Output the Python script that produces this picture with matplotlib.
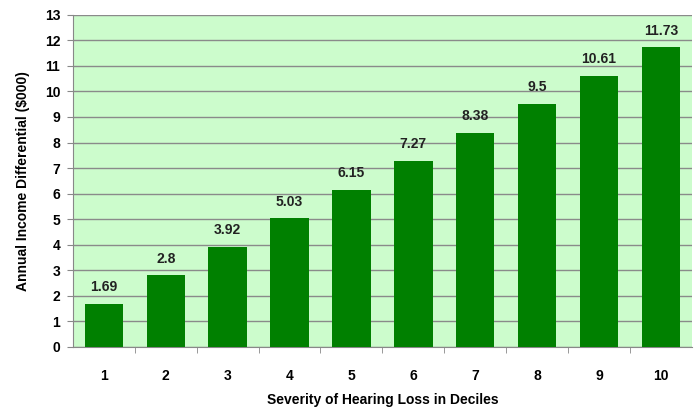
import matplotlib
matplotlib.use("Agg")
import matplotlib.pyplot as plt
from matplotlib.ticker import FixedLocator

plt.rcParams["font.family"] = ["Liberation Sans", "DejaVu Sans"]
plt.rcParams["font.weight"] = "bold"

# data
deciles = ["1", "2", "3", "4", "5", "6", "7", "8", "9", "10"]
income_diff = [1.69, 2.8, 3.92, 5.03, 6.15, 7.27, 8.38, 9.5, 10.61, 11.73]
value_labels = ["1.69", "2.8", "3.92", "5.03", "6.15", "7.27", "8.38", "9.5", "10.61", "11.73"]

fig = plt.figure(figsize=(6.94, 4.11), dpi=100)
ax = fig.add_axes([0.105, 0.156, 0.892, 0.808])
ax.set_facecolor("#ccfccc")

pos = list(range(len(deciles)))
ax.bar(pos, income_diff, width=0.62, color="#008000", zorder=3)

for x, v, lab in zip(pos, income_diff, value_labels):
    ax.text(x, v + 0.38, lab, ha="center", va="bottom", fontsize=10,
            fontweight="bold", color="#222222", zorder=4)

ax.set_xlim(-0.5, len(deciles) - 0.5)
ax.set_ylim(0, 13)
ax.set_yticks(range(0, 14))
ax.yaxis.grid(True, color="#8a8a8a", linewidth=1, zorder=1)

ax.set_xticks(pos)
ax.set_xticklabels(deciles)
ax.tick_params(axis="x", which="major", length=0, pad=16, labelsize=10)
ax.xaxis.set_minor_locator(FixedLocator([p + 0.5 for p in pos[:-1]]))
ax.tick_params(axis="x", which="minor", length=4, color="#888888", direction="out")
ax.tick_params(axis="y", length=4, color="#888888", labelsize=10, pad=5)

for side in ["top", "right"]:
    ax.spines[side].set_visible(False)
ax.spines["left"].set_color("#888888")
ax.spines["bottom"].set_color("#888888")

ax.set_xlabel("Severity of Hearing Loss in Deciles", fontsize=10, fontweight="bold", labelpad=7)
ax.set_ylabel("Annual Income Differential ($000)", fontsize=10, fontweight="bold", labelpad=11)

fig.savefig("out.png", dpi=100)
